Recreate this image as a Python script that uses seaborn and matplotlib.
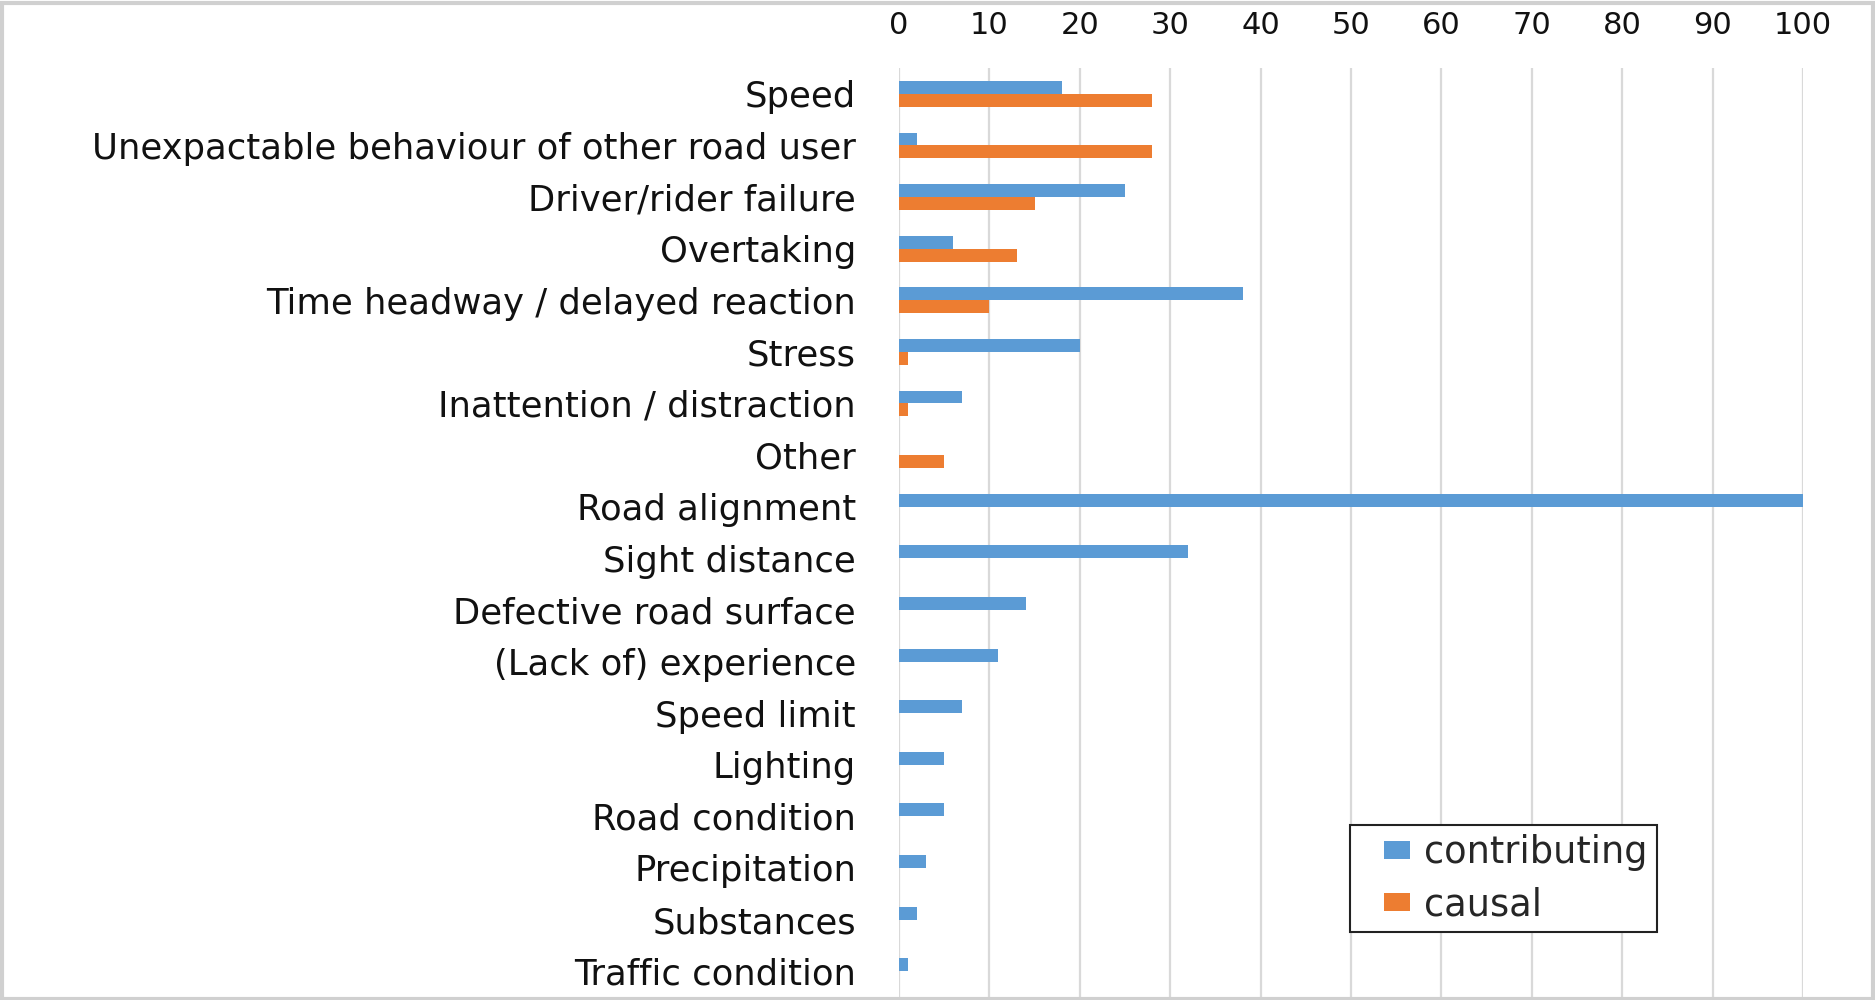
"""
Contributing vs causal factors - horizontal grouped bar chart
"""

## Import packages
import numpy as np
import pandas as pd
import matplotlib
matplotlib.use('Agg')
import matplotlib.pyplot as plt
import seaborn as sns
from matplotlib.patches import Rectangle
from matplotlib.lines import Line2D


## Data
factors = ['Speed',
           'Unexpactable behaviour of other road user',
           'Driver/rider failure',
           'Overtaking',
           'Time headway / delayed reaction',
           'Stress',
           'Inattention / distraction',
           'Other',
           'Road alignment',
           'Sight distance',
           'Defective road surface',
           '(Lack of) experience',
           'Speed limit',
           'Lighting',
           'Road condition',
           'Precipitation',
           'Substances',
           'Traffic condition']

contributing = [18, 2, 25, 6, 38, 20, 7, 0, 100, 32, 14, 11, 7, 5, 5, 3, 2, 1]
causal = [28, 28, 15, 13, 10, 1, 1, 5, 0, 0, 0, 0, 0, 0, 0, 0, 0, 0]

series = ['contributing', 'causal']
x_ticks = [0, 10, 20, 30, 40, 50, 60, 70, 80, 90, 100]

# Long format for seaborn
df = pd.DataFrame({'factor': factors * 2,
                   'value': contributing + causal,
                   'type': ['contributing'] * len(factors) + ['causal'] * len(factors)})


## Figure parameters
colors = ['#5B9BD5', '#ED7D31']
grid_color = '#D9D9D9'
label_size = 25.5
tick_size = 22
legend_size = 26.5


## Create figure
sns.set_theme(style='white')
plt.rcParams['font.family'] = ['DejaVu Sans']

fig, ax = plt.subplots(figsize=(18.75, 10), dpi=100)
fig.subplots_adjust(left=0.4795, right=0.9616, top=0.932, bottom=0.003)

sns.barplot(data=df, y='factor', x='value', hue='type', hue_order=series,
            order=factors, palette=colors, orient='h', width=0.5,
            saturation=1, linewidth=0, ax=ax, zorder=3, legend=False)

# Axis range and ticks on top
ax.set_xlim(0, 100)
ax.set_ylim(len(factors) - 0.5, -0.5)
ax.set_xticks(x_ticks)
ax.xaxis.tick_top()
ax.tick_params(axis='x', length=0, pad=20, labelsize=tick_size, colors='#111111')
ax.tick_params(axis='y', length=0, pad=31, labelsize=label_size, colors='#111111')
ax.set_xlabel('')
ax.set_ylabel('')

# Vertical gridlines only
ax.grid(axis='x', color=grid_color, linewidth=1.6, zorder=0)
ax.set_axisbelow(True)
for s in ax.spines.values():
    s.set_visible(False)

# Legend with wide rectangular keys (marker path starts at the handle centre)
key_shape = [(0, -0.33), (1, -0.33), (1, 0.33), (0, 0.33), (0, -0.33)]
handles = [Line2D([0], [0], linestyle='none', marker=key_shape, markersize=37.4,
                  markeredgewidth=0, markerfacecolor=c, label=s)
           for c, s in zip(colors, series)]
leg = ax.legend(handles=handles, loc='upper left', bbox_to_anchor=(0.499, 0.185),
                fontsize=legend_size, frameon=True, fancybox=False, framealpha=1,
                edgecolor='#222222', handlelength=1.36, handletextpad=0.4,
                labelspacing=0.4, borderpad=0.25, borderaxespad=0)
leg.get_frame().set_linewidth(1.5)

# Light grey frame round the whole picture
fig.patches.append(Rectangle((0.001, 0.001), 0.998, 0.996, transform=fig.transFigure,
                             fill=False, edgecolor='#D0D0D0', linewidth=3))

# Save figure
plt.savefig('out.png', dpi=100)
